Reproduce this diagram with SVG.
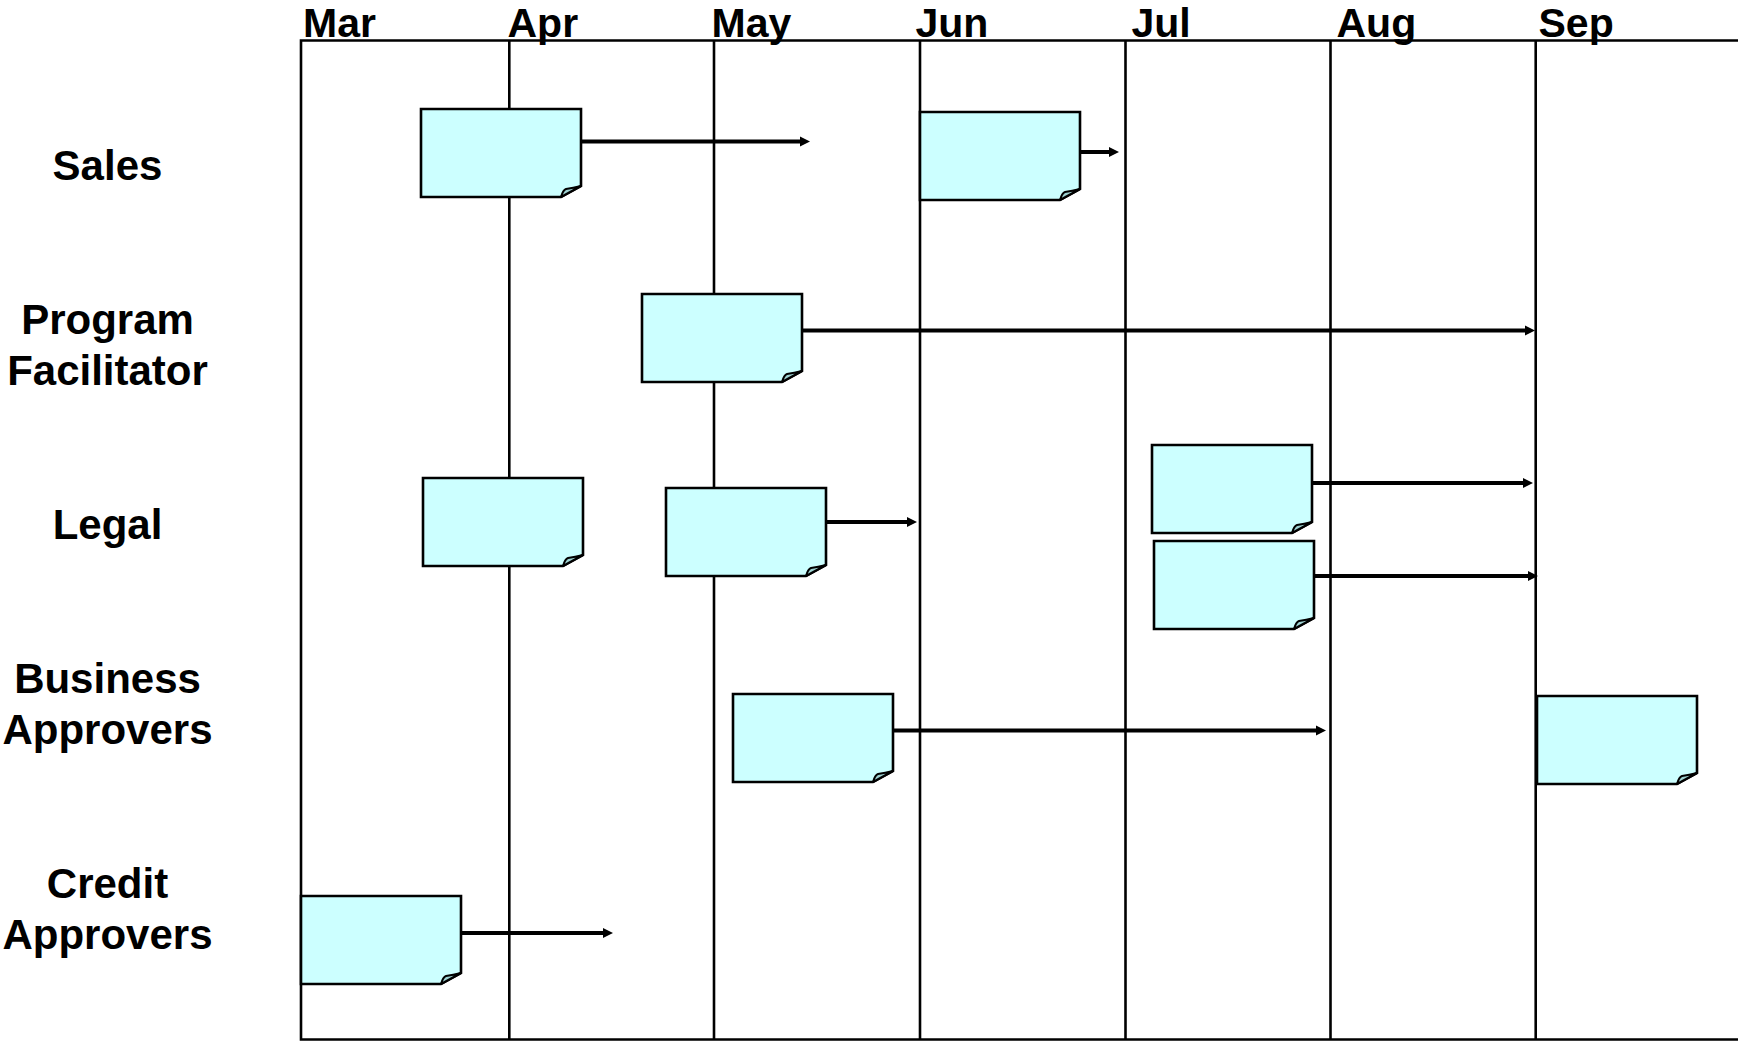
<svg xmlns="http://www.w3.org/2000/svg" width="1738" height="1041" viewBox="0 0 1738 1041">
<style>
.grid{stroke:#000;stroke-width:2.6;fill:none}
.note{fill:#CCFFFF;stroke:#000;stroke-width:2.6;stroke-linejoin:miter}
.fold{fill:#9ED2D2;stroke:#000;stroke-width:2;stroke-linejoin:round}
.arrow{stroke:#000;stroke-width:4;fill:none;marker-end:url(#ah)}
.lbl{font-family:"Liberation Sans",Arial,sans-serif;font-weight:bold;font-size:42px;fill:#000}
.mon{font-size:41px}
.row{text-anchor:middle}
</style>
<defs>
<marker id="ah" markerUnits="userSpaceOnUse" markerWidth="10" markerHeight="10" refX="0" refY="5" orient="auto" overflow="visible">
<path d="M0,0 L10,5 L0,10 Z" fill="#000"/>
</marker>
<g id="noteShape">
<path class="note" d="M0,0 H160 V77 L140,88 H0 Z"/>
<path class="fold" d="M140,88 Q142,81 145,80 Q152,79 160,77 Z"/>
</g>
</defs>
<rect width="1738" height="1041" fill="#fff"/>
<g id="grid">
<path class="grid" d="M1738,40.5 H301 V1039.5 H1738"/>
<line class="grid" x1="509.3" y1="40.5" x2="509.3" y2="1039.5"/>
<line class="grid" x1="714" y1="40.5" x2="714" y2="1039.5"/>
<line class="grid" x1="920" y1="40.5" x2="920" y2="1039.5"/>
<line class="grid" x1="1125.5" y1="40.5" x2="1125.5" y2="1039.5"/>
<line class="grid" x1="1330.5" y1="40.5" x2="1330.5" y2="1039.5"/>
<line class="grid" x1="1535.7" y1="40.5" x2="1535.7" y2="1039.5"/>
</g>
<g id="months" class="lbl mon">
<text x="303" y="36.5">Mar</text>
<text x="507.5" y="36.5">Apr</text>
<text x="711.5" y="36.5">May</text>
<text x="915.5" y="36.5">Jun</text>
<text x="1131.5" y="36.5">Jul</text>
<text x="1336.5" y="36.5">Aug</text>
<text x="1538.5" y="36.5">Sep</text>
</g>
<g id="rows" class="lbl row">
<text x="107.5" y="179.6">Sales</text>
<text x="107.5" y="333.6">Program</text>
<text x="107.5" y="384.6">Facilitator</text>
<text x="107.5" y="538.7">Legal</text>
<text x="107.5" y="692.8">Business</text>
<text x="107.5" y="743.7">Approvers</text>
<text x="107.5" y="897.8">Credit</text>
<text x="107.5" y="948.8">Approvers</text>
</g>
<g id="connectors">
<line class="arrow" x1="581" y1="141.5" x2="800" y2="141.5"/>
<line class="arrow" x1="1080" y1="152" x2="1109" y2="152"/>
<line class="arrow" x1="802" y1="330.5" x2="1525" y2="330.5"/>
<line class="arrow" x1="826" y1="522" x2="907" y2="522"/>
<line class="arrow" x1="1312" y1="483" x2="1523" y2="483"/>
<line class="arrow" x1="1314" y1="576" x2="1528" y2="576"/>
<line class="arrow" x1="893" y1="730.5" x2="1316" y2="730.5"/>
<line class="arrow" x1="461" y1="933" x2="603" y2="933"/>
</g>
<g id="note-sales-1"><use href="#noteShape" x="421" y="109"/></g>
<g id="note-sales-2"><use href="#noteShape" x="920" y="112"/></g>
<g id="note-program"><use href="#noteShape" x="642" y="294"/></g>
<g id="note-legal-1"><use href="#noteShape" x="423" y="478"/></g>
<g id="note-legal-2"><use href="#noteShape" x="666" y="488"/></g>
<g id="note-legal-3"><use href="#noteShape" x="1152" y="445"/></g>
<g id="note-legal-4"><use href="#noteShape" x="1154" y="541"/></g>
<g id="note-business-1"><use href="#noteShape" x="733" y="694"/></g>
<g id="note-business-2"><use href="#noteShape" x="1537" y="696"/></g>
<g id="note-credit"><use href="#noteShape" x="301" y="896"/></g>
</svg>
